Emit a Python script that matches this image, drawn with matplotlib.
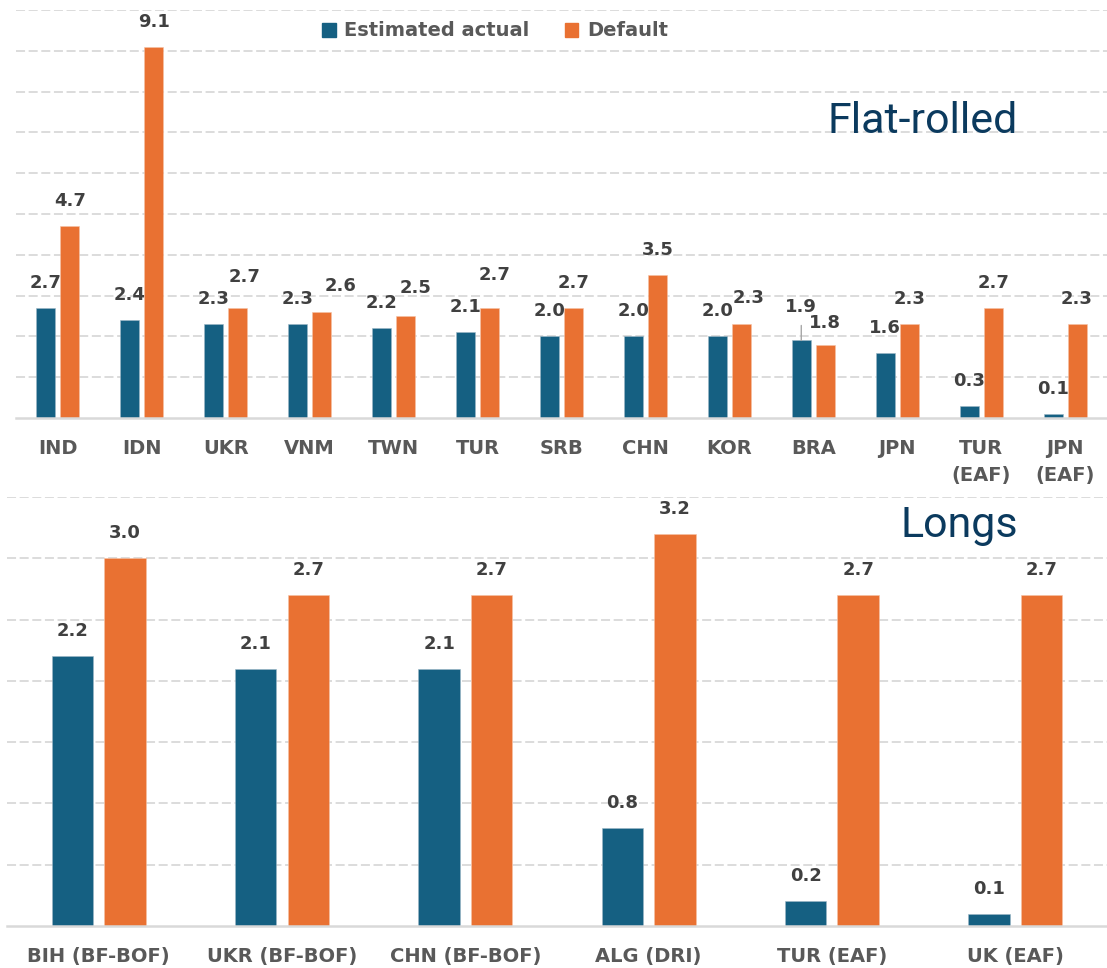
import numpy as np
import matplotlib.pyplot as plt
from matplotlib.patches import Patch

plt.rcParams['font.family'] = ['DejaVu Sans']

# flat-rolled products
flat_cats = ['IND', 'IDN', 'UKR', 'VNM', 'TWN', 'TUR', 'SRB', 'CHN', 'KOR', 'BRA', 'JPN',
             'TUR\n(EAF)', 'JPN\n(EAF)']
flat_est = [2.7, 2.4, 2.3, 2.3, 2.2, 2.1, 2.0, 2.0, 2.0, 1.9, 1.6, 0.3, 0.1]
flat_def = [4.7, 9.1, 2.7, 2.6, 2.5, 2.7, 2.7, 3.5, 2.3, 1.8, 2.3, 2.7, 2.3]

# long products
long_cats = ['BIH (BF-BOF)', 'UKR (BF-BOF)', 'CHN (BF-BOF)', 'ALG (DRI)', 'TUR (EAF)', 'UK (EAF)']
long_est = [2.2, 2.1, 2.1, 0.8, 0.2, 0.1]
long_def = [3.0, 2.7, 2.7, 3.2, 2.7, 2.7]

BLUE = '#156082'
ORANGE = '#E97132'
GRID = '#D9D9D9'
LABEL = '#404040'
TICK = '#595959'
TITLE = '#0B3A5E'

# label nudges in pixels (dx, dy) for the flat-rolled labels that were moved apart
flat_def_nudge = {2: (7, 6), 3: (19, 1), 4: (10, 3), 5: (5, 8), 8: (7, 1), 9: (0, -3)}
flat_est_nudge = {9: (0, 8)}

fig = plt.figure(figsize=(11.07, 9.68), dpi=100)
ax1 = fig.add_axes([16 / 1107, 1 - 418 / 968, 1 - 16 / 1107, 408 / 968])
ax2 = fig.add_axes([7 / 1107, 1 - 926 / 968, 1 - 7 / 1107, 429 / 968])


def style_axes(ax, ymax, step, ncat):
    ax.set_xlim(-0.5, ncat - 0.5)
    ax.set_ylim(0, ymax)
    for y in np.arange(step, ymax + step / 2, step):
        ax.axhline(y, color=GRID, lw=1.3, ls=(0, (5, 2)), zorder=0)
    for s in ['top', 'right', 'left']:
        ax.spines[s].set_visible(False)
    ax.spines['bottom'].set_color(GRID)
    ax.spines['bottom'].set_linewidth(1.8)
    ax.set_yticks([])
    ax.tick_params(axis='x', length=0, pad=15)
    for t in ax.get_xticklabels():
        t.set_fontweight('bold')
        t.set_color(TICK)
        t.set_fontsize(14)
        t.set_linespacing(1.55)


def draw_bars(ax, cats, est, dflt, est_nudge=None, def_nudge=None):
    est_nudge = est_nudge or {}
    def_nudge = def_nudge or {}
    x = np.arange(len(cats))
    off, w = 0.143, 0.226
    ax.bar(x - off, est, w, color=BLUE, edgecolor='#9DB7C6', linewidth=0.4, zorder=2)
    ax.bar(x + off, dflt, w, color=ORANGE, edgecolor='#F6C2A5', linewidth=0.4, zorder=2)
    ax.set_xticks(x)
    ax.set_xticklabels(cats)
    for i in range(len(cats)):
        for xx, v, nudge in ((x[i] - off, est[i], est_nudge), (x[i] + off, dflt[i], def_nudge)):
            dx, dy = nudge.get(i, (0, 0))
            ax.annotate('%.1f' % v, (xx, v), xytext=(dx, 25 + dy), textcoords='offset pixels',
                        ha='center', va='center', fontsize=13, fontweight='bold', color=LABEL,
                        zorder=3)


draw_bars(ax1, flat_cats, flat_est, flat_def, flat_est_nudge, flat_def_nudge)
style_axes(ax1, 10, 1, len(flat_cats))
# leader line for the BRA estimate label
bra = flat_cats.index('BRA')
ax1.annotate('', (bra - 0.143, flat_est[bra]), xytext=(0, 15), textcoords='offset pixels',
             arrowprops=dict(arrowstyle='-', color='#A6A6A6', lw=1, shrinkA=0, shrinkB=0))

draw_bars(ax2, long_cats, long_est, long_def)
style_axes(ax2, 3.5, 0.5, len(long_cats))

fig.text(1018 / 1107, 1 - 133 / 968, 'Flat-rolled', ha='right', va='baseline',
         fontsize=31, color=TITLE, family='Roboto')
fig.text(1018 / 1107, 1 - 537 / 968, 'Longs', ha='right', va='baseline',
         fontsize=31, color=TITLE, family='Roboto')

handles = [Patch(color=BLUE, label='Estimated actual'), Patch(color=ORANGE, label='Default')]
leg = fig.legend(handles=handles, loc='center', bbox_to_anchor=(495 / 1107, 1 - 31 / 968),
                 ncol=2, frameon=False, handlelength=0.7, handleheight=0.7,
                 handletextpad=0.45, columnspacing=1.8,
                 prop={'weight': 'bold', 'size': 14})
for t in leg.get_texts():
    t.set_color(TICK)

fig.savefig('out.png', dpi=100)
